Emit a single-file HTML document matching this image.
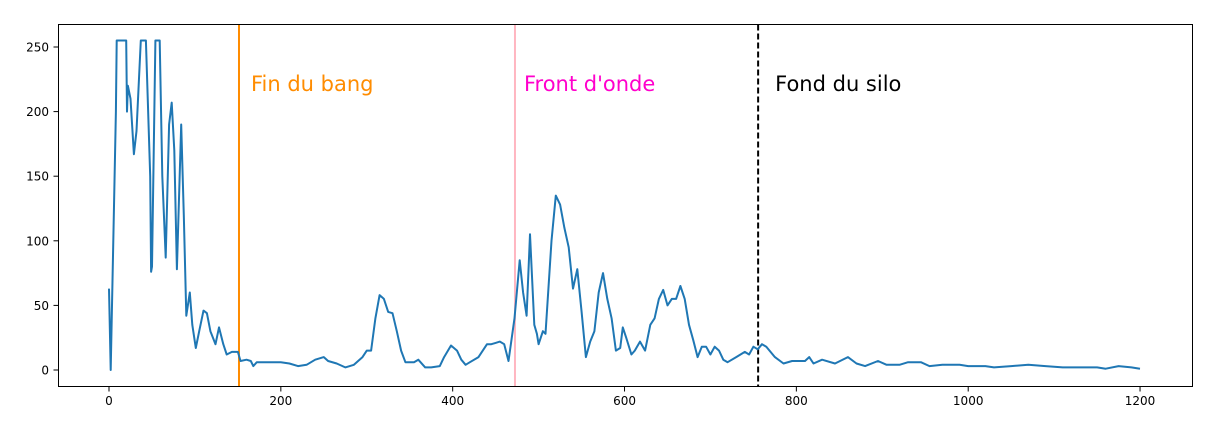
<!DOCTYPE html>
<html><head><meta charset="utf-8"><style>
body{margin:0;background:#fff;}
svg{display:block;font-family:"DejaVu Sans","Liberation Sans",sans-serif;}
</style></head><body>
<svg id="chart" width="1225" height="433">
<rect x="0" y="0" width="1225" height="433" fill="#fff"/>
<g id="plot"></g>
<rect x="58.5" y="24.5" width="1134" height="362" fill="none" stroke="#000" stroke-width="1"/>
</svg>
<script>
const xs = [0,2,8,9,20,21,22,25,29,32,37,43,48,49,50,54,59,62,66,70,73,76,79,84,87,90,94,97,101,105,110,114,118,124,128,133,137,143,150,153,160,165,168,172,180,200,210,220,230,240,250,255,265,275,285,295,300,305,310,315,320,325,330,335,340,345,355,360,368,375,385,390,398,405,410,415,420,430,440,445,450,455,460,465,472,478,482,486,490,495,498,500,505,508,515,520,525,530,535,540,545,550,555,560,565,570,575,580,585,590,595,598,602,608,612,618,624,630,635,640,645,650,655,660,665,670,675,680,685,690,695,700,705,710,715,720,730,740,745,750,755,760,765,775,785,795,810,815,820,830,845,860,870,880,895,905,920,930,945,955,970,990,1000,1020,1030,1050,1070,1090,1110,1130,1150,1160,1175,1190,1200];
const ys = [63,0,200,255,255,200,220,210,167,185,255,255,150,76,80,255,255,150,87,190,207,170,78,190,120,42,60,35,17,30,46,44,30,20,33,20,12,14,14,7,8,7,3,6,6,6,5,3,4,8,10,7,5,2,4,10,15,15,40,58,55,45,44,30,15,6,6,8,2,2,3,10,19,15,8,4,6,10,20,20,21,22,20,7,40,85,60,42,105,35,28,20,30,28,100,135,128,110,95,63,78,45,10,22,30,60,75,55,40,15,17,33,25,12,15,22,15,35,40,55,62,50,55,55,65,55,35,23,10,18,18,12,18,15,8,6,10,14,12,18,16,20,18,10,5,7,7,10,5,8,5,10,5,3,7,4,4,6,6,3,4,4,3,3,2,3,4,3,2,2,2,1,3,2,1];
const xTicks = [0,200,400,600,800,1000,1200];
const yTicks = [0,50,100,150,200,250];
const markers = [151.3,472.5,755.5];
const markerLabels = ["Fin du bang","Front d'onde","Fond du silo"];
const markerColors = ["#ff8c00","#ffb6c1","#000"];
const labelColors = ["#ff8c00","#ff00cc","#000"];

const sx = v => 109 + v*0.8592;
const sy = v => 370 - v*1.292;
const NS="http://www.w3.org/2000/svg";
const g=document.getElementById('plot');
function mk(t,a){const e=document.createElementNS(NS,t);for(const k in a)e.setAttribute(k,a[k]);g.appendChild(e);return e;}

xTicks.forEach(t=>{
  const l=mk('line',{x1:sx(t),x2:sx(t),y1:386.5,y2:391.5,stroke:'#000'});
  
  
  const tx=mk('text',{x:sx(t),y:405,'text-anchor':'middle','font-size':12});
  tx.textContent=t;
  
  
});
yTicks.forEach(t=>{
  const l=mk('line',{x1:53.5,x2:58.5,y1:sy(t),y2:sy(t),stroke:'#000'});
  
  
  const tx=mk('text',{x:49,y:sy(t)+4.5,'text-anchor':'end','font-size':12});
  tx.textContent=t;
  
  
});
markers.forEach((m,i)=>{
  const a={x1:sx(m),x2:sx(m),y1:24.5,y2:386.5,stroke:markerColors[i],'stroke-width':2};
  if(i===2)a['stroke-dasharray']='6,3';
  const l=mk('line',a);
  
  
  const tx=mk('text',{x:sx(m)+12 + (i===1?-3:0) + (i===2?5:0),y:91,'font-size':21,fill:labelColors[i]});
  tx.textContent=markerLabels[i];
  
  
});
const pts=xs.map((x,i)=>sx(x).toFixed(1)+','+sy(ys[i]).toFixed(1)).join(' ');
const pl=mk('polyline',{points:pts,fill:'none',stroke:'#1f77b4','stroke-width':2,'stroke-linejoin':'round'});


</script>
</body></html>
